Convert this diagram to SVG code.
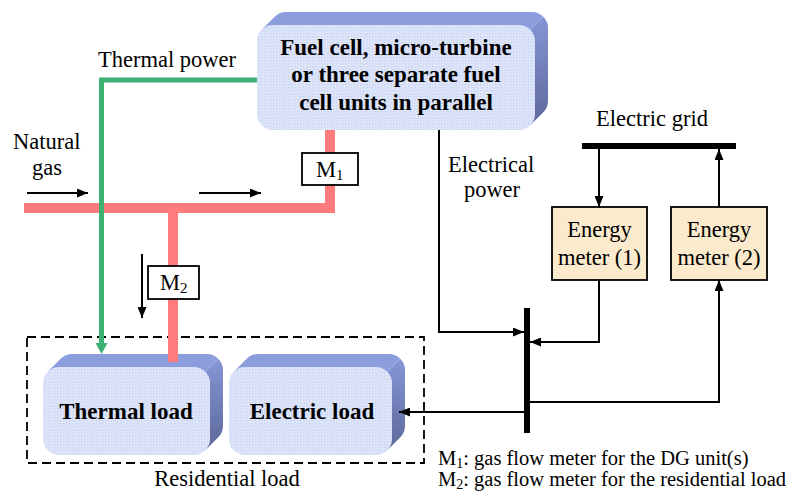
<svg xmlns="http://www.w3.org/2000/svg" width="791" height="495" viewBox="0 0 791 495">
<defs>
<style>
.lbl{font-family:"Liberation Serif","Times New Roman",serif;font-size:22.5px;fill:#000}
.mid{text-anchor:middle}
.bold{font-family:"Liberation Serif","Times New Roman",serif;font-size:23px;font-weight:bold;text-anchor:middle;fill:#000}
.note{font-family:"Liberation Serif","Times New Roman",serif;font-size:20.5px;fill:#000}
.wire{fill:none;stroke:#000;stroke-width:2}
.gas{fill:none;stroke:#FF7C7C;stroke-width:10;stroke-linejoin:miter}
.heat{fill:none;stroke:#3DB174;stroke-width:5;stroke-linejoin:miter}
.front{fill:url(#dots)}
.topf{fill:#8C9DDE}
.side{fill:url(#sideg)}
.meter{fill:#FBEACB;stroke:#000;stroke-width:1.8}
.mbox{fill:#fff;stroke:#000;stroke-width:1.8}
.bar{fill:#000}
</style>
<pattern id="dots" width="3" height="3" patternUnits="userSpaceOnUse">
<rect width="3" height="3" fill="#DEE5F9"/>
<rect width="1.5" height="1.5" fill="#CBD5F4"/>
</pattern>
<linearGradient id="sideg" x1="0" y1="0" x2="0" y2="1">
<stop offset="0" stop-color="#8595D6"/>
<stop offset="1" stop-color="#5E699B"/>
</linearGradient>
<marker id="ah" markerUnits="userSpaceOnUse" markerWidth="11" markerHeight="9" refX="11" refY="4.5" orient="auto">
<path d="M0,0 L11,4.5 L0,9 Z" fill="#000"/>
</marker>
</defs>

<g id="dg-unit">
<path class="topf" d="M261.7,29.7 L274.7,16.7 A16,16 0 0 1 286,12 L532,12 A16,16 0 0 1 543.3,16.7 L530.3,29.7 Z"/>
<path class="side" d="M530.3,29.7 L543.3,16.7 A16,16 0 0 1 548,28 L548,101 A16,16 0 0 1 543.3,112.3 L530.3,125.3 Z"/>
<rect class="front" x="257" y="25" width="278" height="105" rx="16"/>
<text class="bold" x="396" y="55">Fuel cell, micro-turbine</text>
<text class="bold" x="396" y="82">or three separate fuel</text>
<text class="bold" x="396" y="110">cell units in parallel</text>
</g>

<g id="thermal-load">
<path class="topf" d="M47.7,371.7 L60.7,358.7 A16,16 0 0 1 72,354 L207,354 A16,16 0 0 1 218.3,358.7 L205.3,371.7 Z"/>
<path class="side" d="M205.3,371.7 L218.3,358.7 A16,16 0 0 1 223,370 L223,426 A16,16 0 0 1 218.3,437.3 L205.3,450.3 Z"/>
<rect class="front" x="43" y="367" width="167" height="88" rx="16"/>
<text class="bold" x="126" y="419">Thermal load</text>
</g>

<g id="electric-load">
<path class="topf" d="M233.7,371.7 L246.7,358.7 A16,16 0 0 1 258,354 L389,354 A16,16 0 0 1 400.3,358.7 L387.3,371.7 Z"/>
<path class="side" d="M387.3,371.7 L400.3,358.7 A16,16 0 0 1 405,370 L405,426 A16,16 0 0 1 400.3,437.3 L387.3,450.3 Z"/>
<rect class="front" x="229" y="367" width="163" height="88" rx="16"/>
<text class="bold" x="312" y="419">Electric load</text>
</g>

<g id="residential-load">
<rect x="27" y="337" width="397" height="126" fill="none" stroke="#000" stroke-width="1.8" stroke-dasharray="9,5"/>
<text class="lbl mid" x="227" y="486">Residential load</text>
</g>

<g id="connectors">
<path class="gas" d="M24,208 H330 V130"/>
<path class="gas" d="M173,208 V362"/>
<path class="heat" d="M257,80 H101.5 V344"/>
<polygon points="101.5,354 95.5,343 107.5,343" fill="#3DB174"/>
<path class="wire" d="M27,193 H88" marker-end="url(#ah)"/>
<path class="wire" d="M199,193 H261" marker-end="url(#ah)"/>
<path class="wire" d="M142,254 V318" marker-end="url(#ah)"/>
<path class="wire" d="M599,149 V207" marker-end="url(#ah)"/>
<path class="wire" d="M719,207 V149" marker-end="url(#ah)"/>
<path class="wire" d="M439,130 V332 H524" marker-end="url(#ah)"/>
<path class="wire" d="M599,280 V342 H530" marker-end="url(#ah)"/>
<path class="wire" d="M530,402 H719 V280" marker-end="url(#ah)"/>
<path class="wire" d="M524,412 H399" marker-end="url(#ah)"/>
</g>

<g id="meter-m1">
<rect class="mbox" x="302" y="153" width="56" height="32"/>
<text class="lbl" x="316" y="177">M<tspan font-size="15" dy="3">1</tspan></text>
</g>
<g id="meter-m2">
<rect class="mbox" x="148" y="266" width="51" height="33"/>
<text class="lbl" x="160" y="290">M<tspan font-size="15" dy="3">2</tspan></text>
</g>

<g id="electric-grid">
<rect class="bar" x="582" y="143" width="154" height="6"/>
<text class="lbl mid" x="652" y="126">Electric grid</text>
</g>

<g id="bus">
<rect class="bar" x="524" y="308" width="6" height="125"/>
</g>

<g id="energy-meter-1">
<rect class="meter" x="552" y="207" width="95" height="73"/>
<text class="lbl mid" x="599.5" y="237">Energy</text>
<text class="lbl mid" x="599.5" y="265">meter (1)</text>
</g>
<g id="energy-meter-2">
<rect class="meter" x="671" y="207" width="96" height="73"/>
<text class="lbl mid" x="719" y="237">Energy</text>
<text class="lbl mid" x="719" y="265">meter (2)</text>
</g>

<g id="labels">
<text class="lbl" x="98" y="67">Thermal power</text>
<text class="lbl" x="13" y="149">Natural</text>
<text class="lbl mid" x="47" y="175">gas</text>
<text class="lbl" x="448" y="172">Electrical</text>
<text class="lbl mid" x="492" y="197">power</text>
<text class="note" x="438" y="465">M<tspan font-size="14" dy="3">1</tspan><tspan dy="-3">: gas flow meter for the DG unit(s)</tspan></text>
<text class="note" x="438" y="486">M<tspan font-size="14" dy="3">2</tspan><tspan dy="-3">: gas flow meter for the residential load</tspan></text>
</g>
</svg>
